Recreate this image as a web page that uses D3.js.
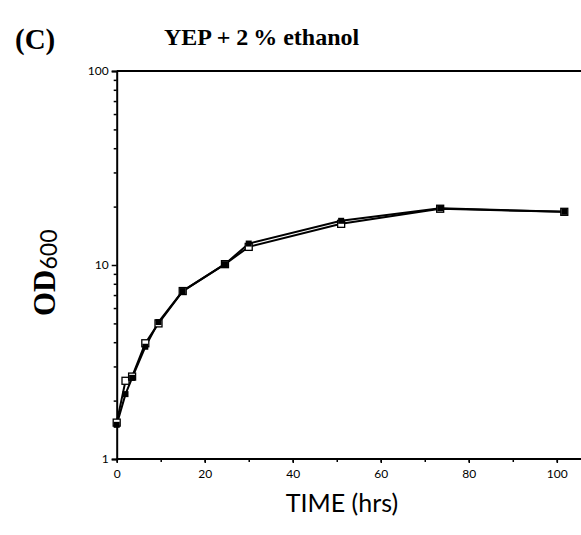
<!DOCTYPE html>
<html>
<head>
<meta charset="utf-8">
<script src="https://cdn.jsdelivr.net/npm/d3@7"></script>
<style>
  body { margin: 0; background: #fff; }
  svg { display: block; }
  .tick text { font-family: "Lato", "DejaVu Sans", sans-serif; }
</style>
</head>
<body>
<svg id="chart" width="581" height="535"></svg>
<script>
// data
const hours = [0, 2, 3.5, 6.5, 9.5, 15, 24.6, 30, 51, 73.5, 101.7];
const openSquares = [1.54, 2.53, 2.66, 3.95, 5.0, 7.34, 10.1, 12.4, 16.3, 19.5, 18.8];
const filledSquares = [1.50, 2.16, 2.62, 3.79, 5.08, 7.34, 10.1, 12.9, 16.9, 19.6, 18.8];
const xTicks = [0, 20, 40, 60, 80, 100];
const yTicks = [1, 10, 100];

const svg = d3.select('#chart');

const x = d3.scaleLinear().domain([0, 105.5]).range([116.7, 581]);
const y = d3.scaleLog().domain([1, 100]).range([459, 71]);

// top frame line
svg.append('line')
    .attr('x1', x(0)).attr('x2', 581)
    .attr('y1', y(100)).attr('y2', y(100))
    .attr('stroke', '#000').attr('stroke-width', 2);

// y axis, minor ticks 2..9 per decade
const yMinor = [];
[1, 10].forEach(dec => { for (let k = 2; k <= 9; k++) yMinor.push(dec * k); });

svg.append('g')
    .attr('transform', `translate(${x(0)},0)`)
    .call(d3.axisLeft(y).tickValues(yMinor).tickSize(3).tickFormat(''))
    .call(g => g.select('.domain').remove())
    .selectAll('line').attr('stroke-width', 1.5);

svg.append('g')
    .attr('transform', `translate(${x(0)},0)`)
    .call(d3.axisLeft(y).tickValues(yTicks).tickSize(5).tickPadding(3).tickFormat(d3.format('d')))
    .call(g => g.select('.domain').attr('stroke-width', 2))
    .call(g => g.selectAll('line').attr('stroke-width', 1.5))
    .call(g => g.selectAll('text').attr('font-size', 12).attr('fill', '#000'));

// x axis
svg.append('g')
    .attr('transform', `translate(0,${y(1)})`)
    .call(d3.axisBottom(x).tickValues(d3.range(0, 106, 10)).tickSize(3).tickFormat(''))
    .call(g => g.select('.domain').remove())
    .selectAll('line').attr('stroke-width', 1.5);

svg.append('g')
    .attr('transform', `translate(0,${y(1)})`)
    .call(d3.axisBottom(x).tickValues(xTicks).tickSize(4).tickPadding(6).tickFormat(d3.format('d')))
    .call(g => g.select('.domain').attr('d', `M${x(0)},0H581`).attr('stroke-width', 2))
    .call(g => g.selectAll('line').attr('stroke-width', 1.5))
    .call(g => g.selectAll('text').attr('font-size', 12).attr('fill', '#000'));

// series
const line = d3.line().x((d, i) => x(hours[i])).y(d => y(d));

[openSquares, filledSquares].forEach(vals => {
    svg.append('path')
        .datum(vals)
        .attr('d', line)
        .attr('fill', 'none')
        .attr('stroke', '#000')
        .attr('stroke-width', 2);
});

// open markers first, filled ones sit on top where they overlap
svg.append('g').selectAll('rect')
    .data(openSquares)
    .join('rect')
    .attr('x', (d, i) => x(hours[i]) - 3.5)
    .attr('y', d => y(d) - 3.5)
    .attr('width', 7).attr('height', 7)
    .attr('fill', '#fff')
    .attr('stroke', '#000')
    .attr('stroke-width', 1.3);

svg.append('g').selectAll('rect')
    .data(filledSquares)
    .join('rect')
    .attr('x', (d, i) => x(hours[i]) - 3)
    .attr('y', d => y(d) - 3)
    .attr('width', 6).attr('height', 6)
    .attr('fill', '#000');

// texts
svg.append('text')
    .attr('x', 15).attr('y', 49)
    .attr('font-family', '"Liberation Serif", "Times New Roman", serif')
    .attr('font-weight', 'bold').attr('font-size', 29)
    .text('(C)');

svg.append('text')
    .attr('x', 164).attr('y', 45)
    .attr('font-family', '"Liberation Serif", "Times New Roman", serif')
    .attr('font-weight', 'bold').attr('font-size', 24)
    .text('YEP + 2\u2009% ethanol');

const yl = svg.append('text')
    .attr('transform', 'translate(55,316) rotate(-90)')
    .attr('fill', '#000');
yl.append('tspan')
    .attr('font-family', '"Liberation Serif", "Times New Roman", serif')
    .attr('font-weight', 'bold').attr('font-size', 31)
    .text('OD');
yl.append('tspan')
    .attr('font-family', '"Lato", "DejaVu Sans", sans-serif')
    .attr('font-size', 23).attr('dy', 2)
    .text('600');

svg.append('text')
    .attr('x', 342).attr('y', 512)
    .attr('text-anchor', 'middle')
    .attr('font-family', '"Lato", "DejaVu Sans", sans-serif')
    .attr('font-size', 25)
    .text('TIME (hrs)');
</script>
</body>
</html>
